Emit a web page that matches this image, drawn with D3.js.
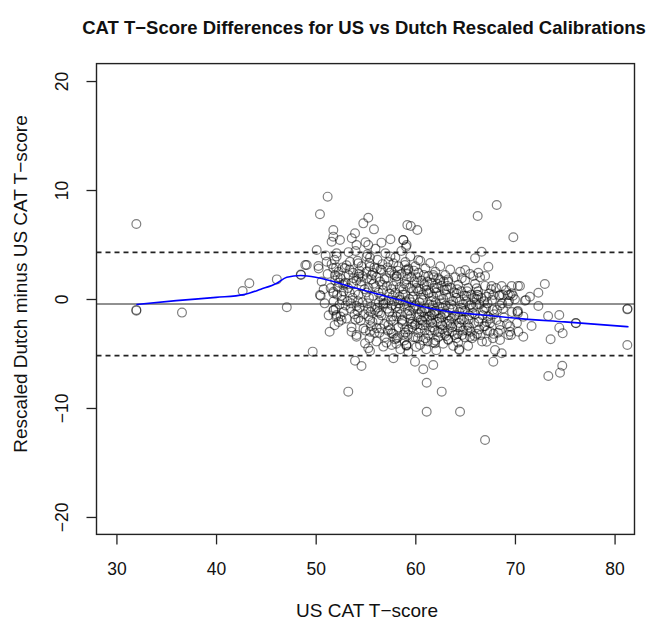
<!DOCTYPE html>
<html>
<head>
<meta charset="utf-8">
<script src="https://cdn.jsdelivr.net/npm/d3@7"></script>
<style>
  body { margin: 0; background: #fff; }
  svg text { font-family: "Liberation Sans", Arial, sans-serif; fill: #111; }
</style>
</head>
<body>
<div id="chart"></div>
<script>
// tick values
const xTicks = [30, 40, 50, 60, 70, 80];
const yTicks = [-20, -10, 0, 10, 20];

// mean difference and limits of agreement
const meanDiff = -0.46;
const upperLimit = 4.28;
const lowerLimit = -5.2;

// loess smooth, [US score, difference]
const smoothLine = [
  [32.0, -0.5], [36, -0.15], [40, 0.15], [42.8, 0.4], [44.5, 0.9], [46.1, 1.45],
  [47.1, 2.0], [48.5, 2.15], [50, 2.0], [51.4, 1.7], [54, 1.0], [56, 0.5],
  [58.5, -0.1], [60.5, -0.65], [63, -1.1], [66.5, -1.45], [70.5, -1.8],
  [75, -2.1], [81.4, -2.55]
];

// scattered points
const outerPoints = [
  [32.0, 6.88], [32.0, -1.07], [32.0, -1.0], [36.58, -1.25], [42.67, 0.73], [43.34, 1.44],
  [46.1, 1.8], [47.1, -0.76], [48.53, 2.2], [48.5, 2.25], [48.96, 3.12],
  [51.2, 9.39], [50.43, 7.77], [55.28, 7.46], [54.78, 6.94], [55.85, 6.39], [51.77, 6.33],
  [51.77, 5.72], [53.95, 6.03], [53.62, 5.57], [52.44, 5.41], [51.6, 5.26], [54.1, 4.95],
  [55.28, 4.95], [56.6, 5.17], [57.5, 5.48], [58.8, 5.41], [59.2, 6.79], [50.1, 4.5],
  [52.1, 4.19], [49.1, 3.12], [50.27, 3.03], [51.1, 3.42], [51.77, 2.82], [51.94, 2.2],
  [52.94, 2.82], [53.44, 3.42], [54.28, 3.27], [55.12, 3.88], [55.45, 2.96], [55.62, 2.2],
  [54.28, 2.05], [53.6, 1.44], [52.77, 1.28], [51.77, 0.67], [50.43, 0.37], [50.5, 0.3],
  [56.6, 2.66], [57.8, 3.27], [58.1, 2.05], [59.1, 2.66],
  [51.77, 0.52], [51.77, -1.07], [51.8, -1.0], [52.1, -1.47], [52.6, -1.93], [53.6, -3.0],
  [54.1, -3.46], [54.1, -0.64], [54.28, -1.77], [55.28, -1.0], [55.45, -1.93], [55.45, -3.0],
  [54.95, -4.07], [55.28, -4.52], [55.45, -4.77], [56.12, -2.69], [56.79, -4.37],
  [56.45, -1.31], [56.79, -0.4], [57.63, -3.15], [58.13, -3.61], [57.63, -4.22],
  [57.8, -5.44], [59.1, -4.22], [49.7, -4.83], [53.95, -5.66], [54.6, -6.15], [53.27, -8.5],
  [68.17, 8.62], [66.26, 7.61], [59.54, 6.7], [60.2, 6.33], [69.84, 5.66], [58.8, 5.41],
  [59.13, 4.95], [59.07, 4.8], [66.66, 4.34], [66.0, 3.73], [60.3, 3.58], [67.33, 2.96],
  [65.0, 2.66], [66.32, 2.41], [65.82, 2.11], [67.0, 2.11], [64.66, 1.9], [61.8, 2.2],
  [63.3, 1.8], [58.96, 3.12], [59.3, 2.66], [62.5, 1.74], [67.66, 1.19], [68.67, 1.19],
  [69.67, 1.19], [70.3, 1.2], [66.16, 0.98], [67.83, 0.37], [68.8, 0.37], [69.5, 0.37],
  [67.0, -12.94], [61.14, -10.34], [64.49, -10.34], [62.65, -8.5], [61.14, -7.68],
  [60.8, -6.45], [61.8, -6.06], [59.97, -5.75], [67.83, -5.75], [59.3, -4.83], [64.42, -4.68],
  [64.4, -4.6], [59.13, -4.22], [68.67, -4.98], [68.0, -4.68], [61.97, -4.07], [60.47, -4.22],
  [63.31, -3.76], [65.49, -3.46], [67.16, -3.92], [68.5, -3.76], [69.33, -3.3], [67.5, -3.0],
  [68.5, -2.84], [69.5, -2.5], [70.2, -2.2], [67.16, -2.08], [68.17, -1.93], [67.8, -1.0],
  [68.5, -0.6], [69.3, -0.4], [70.3, -1.3], [69.3, 0.37], [68.5, 0.37], [66.3, 0.37],
  [73.0, 1.38], [70.5, 1.19], [72.35, 0.58], [71.5, 0.21], [71.0, -0.15], [71.1, -0.1],
  [70.0, -0.03], [72.35, -0.64], [69.67, 0.52], [70.24, -1.16], [70.3, -1.1], [70.84, -1.62],
  [73.33, -1.56], [74.45, -1.47], [76.13, -2.23], [76.1, -2.2], [71.67, -2.48], [74.45, -2.63],
  [74.79, -3.15], [70.34, -3.0], [70.84, -3.46], [69.6, -3.3], [73.58, -3.7],
  [81.28, -0.95], [81.3, -0.9], [81.28, -4.22], [74.75, -6.12], [74.52, -6.76], [73.35, -7.06]
];

// dense centre of the cloud
const corePoints = [
  [50.3, 2.8], [50.6, 1.6], [50.9, -0.4], [51.2, 2.3], [51.5, 1.0], [51.8, -0.2], [51.3, -1.5],
  [51.0, 4.0], [51.6, 3.2], [51.9, -2.4], [50.8, 0.9], [51.4, -3.0],
  [52.1, 3.9], [52.3, 2.5], [52.5, 1.9], [52.2, 1.1], [52.6, 0.3], [52.4, -0.5], [52.8, -1.2],
  [52.3, -2.1], [52.7, 2.9], [52.9, 1.4], [52.0, -0.9], [52.5, -1.6], [52.8, 0.7], [52.2, 2.0],
  [53.1, 3.1], [53.3, 2.2], [53.0, 1.5], [53.4, 0.6], [53.2, -0.2], [53.5, -0.9], [53.1, -1.8],
  [53.6, -2.6], [53.3, 4.3], [53.8, 1.9], [53.7, 0.1], [53.9, -1.4], [53.4, 2.7], [53.0, -0.6],
  [54.0, 4.4], [54.2, 3.5], [54.4, 2.6], [54.1, 1.7], [54.6, 1.2], [54.3, 0.4], [54.7, -0.3],
  [54.2, -1.1], [54.5, -2.0], [54.8, -2.7], [54.1, -3.3], [54.6, 3.0], [54.9, 0.9], [54.4, -0.8],
  [54.7, 2.1], [54.0, -1.9],
  [55.0, 5.2], [55.2, 4.1], [55.4, 3.3], [55.1, 2.5], [55.6, 1.8], [55.3, 1.0], [55.8, 0.3],
  [55.2, -0.4], [55.5, -1.2], [55.7, -2.1], [55.0, -2.9], [55.4, -3.6], [55.9, 2.9], [55.6, -0.7],
  [55.1, 0.6], [55.8, 1.4], [55.3, -1.6], [55.9, -3.1],
  [56.0, 4.6], [56.2, 3.6], [56.5, 2.7], [56.1, 2.0], [56.7, 1.3], [56.3, 0.6], [56.8, -0.1],
  [56.2, -0.8], [56.6, -1.5], [56.9, -2.3], [56.4, -3.1], [56.1, -3.9], [56.7, 3.2], [56.5, 0.2],
  [56.9, 1.8], [56.3, -1.9], [56.8, -0.5], [56.0, 1.1],
  [57.0, 4.2], [57.3, 3.4], [57.6, 2.6], [57.1, 1.9], [57.8, 1.2], [57.4, 0.5], [57.9, -0.2],
  [57.2, -0.9], [57.7, -1.6], [57.3, -2.4], [57.8, -3.2], [57.1, -4.0], [57.5, 3.9], [57.9, 2.2],
  [57.4, -1.2], [57.6, 0.9], [57.0, -0.4], [57.8, -2.0], [57.2, 2.9], [57.5, -2.8],
  [58.0, 3.8], [58.3, 3.0], [58.6, 2.3], [58.1, 1.6], [58.8, 0.9], [58.4, 0.2], [58.9, -0.5],
  [58.2, -1.2], [58.7, -1.9], [58.3, -2.6], [58.8, -3.3], [58.1, -4.1], [58.5, -4.6], [58.6, 4.4],
  [58.0, 0.6], [58.9, 1.4], [58.4, -0.9], [58.2, 2.6], [58.7, -2.3], [58.5, -0.1], [58.9, -3.8],
  [58.1, -1.6],
  [59.0, 3.4], [59.3, 2.8], [59.6, 2.0], [59.1, 1.3], [59.8, 0.7], [59.4, 0.0], [59.9, -0.7],
  [59.2, -1.4], [59.7, -2.1], [59.3, -2.8], [59.8, -3.5], [59.1, -4.3], [59.5, 3.9], [59.0, 0.4],
  [59.9, 1.6], [59.4, -1.1], [59.6, -0.3], [59.2, 2.3], [59.7, -2.6], [59.5, -1.8], [59.0, -3.1],
  [59.8, -0.9],
  [60.0, 3.0], [60.3, 2.4], [60.6, 1.7], [60.1, 1.0], [60.8, 0.4], [60.4, -0.3], [60.9, -1.0],
  [60.2, -1.7], [60.7, -2.4], [60.3, -3.1], [60.8, -3.8], [60.1, -4.4], [60.5, 3.5], [60.0, -0.6],
  [60.9, 1.3], [60.4, -1.4], [60.6, 0.1], [60.2, 2.0], [60.7, -2.0], [60.5, -2.7], [60.0, -3.5],
  [60.9, -1.6], [60.3, 0.7],
  [61.0, 2.8], [61.3, 2.1], [61.6, 1.5], [61.1, 0.8], [61.8, 0.2], [61.4, -0.5], [61.9, -1.2],
  [61.2, -1.9], [61.7, -2.6], [61.3, -3.3], [61.8, -4.0], [61.1, -4.6], [61.5, 3.3], [61.0, -0.9],
  [61.9, 1.0], [61.4, -1.6], [61.6, -0.2], [61.2, 1.6], [61.7, -2.2], [61.5, -2.9], [61.0, -3.6],
  [61.9, -1.4], [61.3, 0.5],
  [62.0, 2.5], [62.3, 1.9], [62.6, 1.2], [62.1, 0.6], [62.8, 0.0], [62.4, -0.7], [62.9, -1.4],
  [62.2, -2.1], [62.7, -2.8], [62.3, -3.5], [62.8, -4.1], [62.1, -4.7], [62.5, 3.0], [62.0, -1.1],
  [62.9, 0.8], [62.4, -1.8], [62.6, -0.4], [62.2, 1.4], [62.7, -2.4], [62.5, -3.1], [62.0, -3.8],
  [63.0, 2.2], [63.3, 1.6], [63.6, 1.0], [63.1, 0.4], [63.8, -0.2], [63.4, -0.9], [63.9, -1.6],
  [63.2, -2.3], [63.7, -3.0], [63.3, -3.7], [63.8, -4.3], [63.5, 2.7], [63.0, -1.3], [63.9, 0.6],
  [63.4, -2.0], [63.6, -0.5], [63.2, 1.2], [63.7, -2.6], [63.1, -3.4],
  [64.0, 2.0], [64.3, 1.3], [64.6, 0.7], [64.1, 0.1], [64.8, -0.5], [64.4, -1.2], [64.9, -1.9],
  [64.2, -2.6], [64.7, -3.3], [64.3, -4.0], [64.5, 2.5], [64.0, -1.5], [64.9, 0.3], [64.4, -2.2],
  [64.6, -0.8], [64.2, 0.9], [64.8, -2.9], [64.1, -3.6],
  [65.0, 1.7], [65.3, 1.0], [65.6, 0.4], [65.1, -0.2], [65.8, -0.8], [65.4, -1.5], [65.9, -2.2],
  [65.2, -2.9], [65.7, -3.6], [65.3, -4.3], [65.5, 2.3], [65.0, -1.1], [65.9, 0.1], [65.4, -2.6],
  [65.6, -0.5], [65.2, 0.7],
  [66.0, 1.4], [66.3, 0.7], [66.6, 0.1], [66.1, -0.5], [66.8, -1.1], [66.4, -1.8], [66.9, -2.5],
  [66.2, -3.2], [66.7, -3.9], [66.5, 2.0], [66.0, -1.4], [66.9, -0.2], [66.4, -2.8], [66.2, 0.4],
  [67.0, 1.2], [67.4, 0.5], [67.7, -0.1], [67.1, -0.8], [67.9, -1.4], [67.5, -2.2], [67.2, -2.9],
  [67.8, -3.6], [67.3, -1.6], [67.6, 0.9], [67.0, -2.5],
  [68.1, 1.0], [68.4, 0.3], [68.7, -0.4], [68.2, -1.0], [68.9, -1.7], [68.5, -2.4], [68.3, -3.1],
  [68.8, -0.9],
  [69.1, 0.8], [69.4, -0.2], [69.7, -1.2], [69.2, -2.3], [69.5, -3.0], [69.8, 0.3]
];

// more overlapping points in the darkest part of the cloud
const densePoints = [
  [51.9, 3.6], [52.05, 2.9], [51.95, 1.7], [52.15, 0.4], [52.35, 1.5], [52.65, -0.1], [52.05, -1.6],
  [53.25, 1.0], [53.55, -0.4], [53.75, 2.4], [53.95, 0.6], [54.25, -0.2], [54.55, 1.6], [54.85, -1.4],
  [54.35, 2.3],
  [55.15, 1.9], [55.35, 0.1], [55.55, -2.5], [55.75, 2.4], [55.95, -1.0], [55.45, 3.8],
  [56.15, 2.8], [56.35, -0.3], [56.55, -2.7], [56.75, 0.8], [56.95, -3.5], [56.45, 1.6], [56.25, -1.2],
  [57.15, 1.2], [57.35, -0.1], [57.55, -1.9], [57.75, 0.3], [57.95, -3.7], [57.45, 2.4], [57.25, -2.9],
  [57.65, -0.6],
  [58.15, 2.1], [58.35, -0.4], [58.55, -1.4], [58.75, 0.4], [58.95, -2.8], [58.45, 1.1], [58.25, -3.5],
  [58.65, -2.0], [58.05, -0.7],
  [59.15, 1.8], [59.35, -0.6], [59.55, -1.5], [59.75, 0.2], [59.95, -2.4], [59.45, 1.0], [59.25, -3.3],
  [59.65, -2.3], [59.05, -0.2], [59.85, 2.6],
  [60.15, 1.5], [60.35, -0.9], [60.55, -1.9], [60.75, -0.1], [60.95, -2.9], [60.45, 0.9], [60.25, -3.6],
  [60.65, -1.2], [60.05, -2.3], [60.85, 2.2],
  [61.15, 1.2], [61.35, -1.1], [61.55, -2.0], [61.75, -0.6], [61.95, -2.9], [61.45, 0.6], [61.25, -3.9],
  [61.65, -1.5], [61.05, -2.4], [61.85, 2.0],
  [62.15, 1.0], [62.35, -1.3], [62.55, -2.2], [62.75, -0.8], [62.95, -3.2], [62.45, 0.3], [62.25, -3.0],
  [62.65, -1.7], [62.05, -0.3], [62.85, 1.6],
  [63.15, 0.9], [63.35, -1.5], [63.55, -2.4], [63.75, -0.9], [63.95, -3.3], [63.45, 0.1], [63.25, -2.9],
  [63.65, -1.8], [63.05, -0.6],
  [64.15, 0.5], [64.35, -1.7], [64.55, -2.6], [64.75, -1.1], [64.95, -3.5], [64.45, -0.2], [64.25, -3.2],
  [64.65, -1.9],
  [65.15, 0.3], [65.35, -1.9], [65.55, -3.0], [65.75, -1.3], [65.95, -3.4], [65.45, -0.6], [65.25, -2.4],
  [66.15, 0.0], [66.35, -2.1], [66.55, -3.3], [66.75, -1.5], [66.95, -0.9], [66.45, -0.5],
  [67.25, -0.4], [67.55, -1.8], [67.85, -3.2], [67.15, 0.2]
];

const width = 652, height = 623;
const plot = { left: 96.5, right: 634.5, top: 63.6, bottom: 534.4 };

const svg = d3.select('#chart').append('svg')
  .attr('width', width)
  .attr('height', height);

const x = d3.scaleLinear().domain([28, 82]).range([plot.left, plot.right]);
const y = d3.scaleLinear().domain([-21.6, 21.6]).range([plot.bottom, plot.top]);

// title
svg.append('text')
  .attr('x', 364)
  .attr('y', 34)
  .attr('text-anchor', 'middle')
  .style('font-size', '18.5px')
  .style('font-weight', 'bold')
  .text('CAT T\u2212Score Differences for US vs Dutch Rescaled Calibrations');

// points
const allPoints = outerPoints.concat(corePoints, densePoints);
svg.append('g')
  .selectAll('circle')
  .data(allPoints)
  .join('circle')
  .attr('cx', d => x(d[0]))
  .attr('cy', d => y(d[1]))
  .attr('r', 4.4)
  .attr('fill', 'none')
  .attr('stroke', '#000')
  .attr('stroke-opacity', 0.5)
  .attr('stroke-width', 1.2);

// reference lines
svg.append('line')
  .attr('x1', plot.left).attr('x2', plot.right)
  .attr('y1', y(meanDiff)).attr('y2', y(meanDiff))
  .attr('stroke', '#222').attr('stroke-width', 1);
[upperLimit, lowerLimit].forEach(v => {
  svg.append('line')
    .attr('x1', plot.left).attr('x2', plot.right)
    .attr('y1', y(v)).attr('y2', y(v))
    .attr('stroke', '#222').attr('stroke-width', 1.6)
    .attr('stroke-dasharray', '5,4');
});

// smooth
svg.append('path')
  .datum(smoothLine)
  .attr('fill', 'none')
  .attr('stroke', '#0000ff')
  .attr('stroke-width', 1.6)
  .attr('d', d3.line().x(d => x(d[0])).y(d => y(d[1])).curve(d3.curveMonotoneX));

// axes
const xAxis = svg.append('g')
  .attr('transform', `translate(0,${plot.bottom})`)
  .call(d3.axisBottom(x).tickValues(xTicks).tickSize(10).tickPadding(18));
xAxis.select('.domain').remove();
xAxis.selectAll('line').attr('stroke', '#222').attr('stroke-width', 1.3);
xAxis.selectAll('text').style('font-size', '17.5px').attr('fill', '#111');

const yAxis = svg.append('g')
  .attr('transform', `translate(${plot.left},0)`)
  .call(d3.axisLeft(y).tickValues(yTicks).tickSize(10));
yAxis.select('.domain').remove();
yAxis.selectAll('line').attr('stroke', '#222').attr('stroke-width', 1.3);
yAxis.selectAll('text')
  .style('font-size', '17.5px')
  .attr('fill', '#111')
  .attr('x', null).attr('dy', null)
  .attr('text-anchor', 'middle')
  .attr('transform', 'translate(-29,0) rotate(-90)')
  .attr('y', 0);

// box
svg.append('rect')
  .attr('x', plot.left).attr('y', plot.top)
  .attr('width', plot.right - plot.left)
  .attr('height', plot.bottom - plot.top)
  .attr('fill', 'none')
  .attr('stroke', '#222')
  .attr('stroke-width', 1.4);

// axis titles
svg.append('text')
  .attr('x', 367)
  .attr('y', 617)
  .attr('text-anchor', 'middle')
  .style('font-size', '19px')
  .text('US CAT T\u2212score');

svg.append('text')
  .attr('transform', 'translate(27,284) rotate(-90)')
  .attr('text-anchor', 'middle')
  .style('font-size', '19px')
  .text('Rescaled Dutch minus US CAT T\u2212score');
</script>
</body>
</html>
